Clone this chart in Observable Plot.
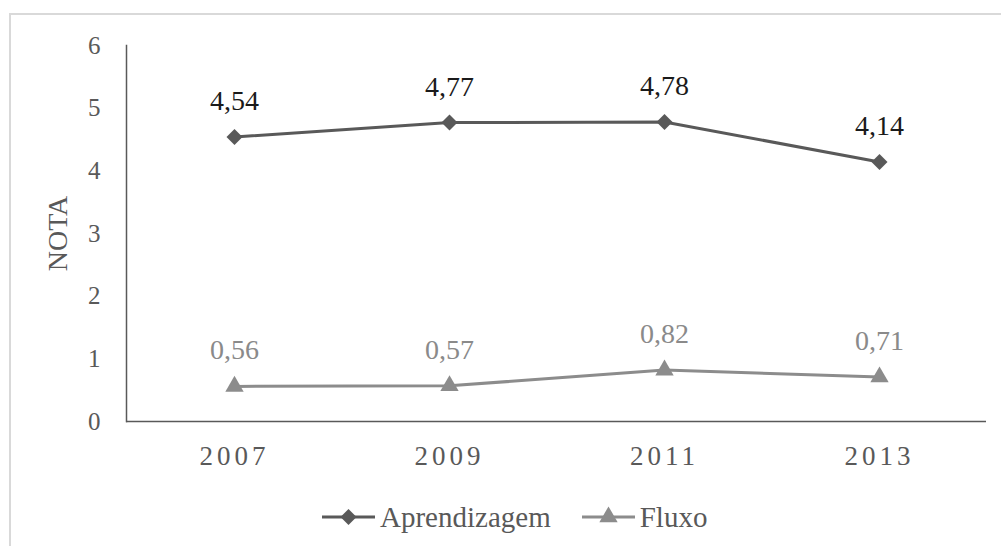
<!DOCTYPE html>
<html>
<head>
<meta charset="utf-8">
<script src="https://cdn.jsdelivr.net/npm/d3@7"></script>
<script src="https://cdn.jsdelivr.net/npm/@observablehq/plot@0.6"></script>
</head>
<body style="margin:0;padding:0;background:#fff">
<div id="wrap" style="position:relative;width:1001px;height:546px;overflow:hidden;font-family:'Liberation Serif'">
  <div style="position:absolute;left:9px;top:13px;width:1100px;height:600px;border-top:2px solid #d9d9d9;border-left:2px solid #d9d9d9;box-sizing:border-box"></div>
  <div id="chart" style="position:absolute;left:0;top:0"></div>
  <div id="legend" style="position:absolute;left:322px;top:497px;height:40px;display:flex;align-items:center;font-size:29px;color:#595959;font-family:'Liberation Serif'"></div>
</div>
<script>
const years = ["2007", "2009", "2011", "2013"];
const aprendizagem = [4.54, 4.77, 4.78, 4.14];
const fluxo = [0.56, 0.57, 0.82, 0.71];
const seriesNames = ["Aprendizagem", "Fluxo"];
const yTicks = [0, 1, 2, 3, 4, 5, 6];
const yLabel = "NOTA";

const FONT = "Liberation Serif";
const lineColors = {Aprendizagem: "#595959", Fluxo: "#8c8c8c"};
const labelColors = {Aprendizagem: "#1a1a1a", Fluxo: "#8a8a8a"};
const symbols = {Aprendizagem: "diamond2", Fluxo: "triangle"};
const radii = {Aprendizagem: 7.2, Fluxo: 6.8};

const data = years.flatMap((y, i) => [
  {year: y, serie: seriesNames[0], value: aprendizagem[i]},
  {year: y, serie: seriesNames[1], value: fluxo[i]}
]);
const fmt = v => d3.format(".2f")(v).replace(".", ",");

const marks = [
  Plot.axisY({ticks: yTicks, tickSize: 0, tickPadding: 26, fontSize: 25, fontFamily: FONT, fill: "#595959", label: null, tickFormat: d => String(d)}),
  Plot.axisX({tickSize: 0, tickPadding: 24, fontSize: 27, fontFamily: FONT, fill: "#595959", label: null}),
  Plot.text([yLabel], {frameAnchor: "left", textAnchor: "middle", dx: -68, rotate: -90, fontSize: 28, fontFamily: FONT, fill: "#595959"}),
  Plot.ruleY([0], {stroke: "#595959", strokeWidth: 1.5}),
  Plot.frame({anchor: "left", stroke: "#595959", strokeWidth: 1.5})
];
for (const s of seriesNames) {
  const f = d => d.serie === s;
  marks.push(Plot.line(data, {filter: f, x: "year", y: "value", stroke: lineColors[s], strokeWidth: 3}));
  marks.push(Plot.dot(data, {filter: f, x: "year", y: "value", symbol: symbols[s], r: radii[s], fill: lineColors[s], stroke: "none"}));
  marks.push(Plot.text(data, {filter: f, x: "year", y: "value", text: d => fmt(d.value), dy: -36, fontSize: 28, fontFamily: FONT, fill: labelColors[s]}));
}

const chart = Plot.plot({
  width: 1001,
  height: 470,
  marginLeft: 126,
  marginRight: 15,
  marginTop: 45,
  marginBottom: 49,
  style: {fontFamily: FONT, background: "transparent", overflow: "visible"},
  x: {type: "point", domain: years, padding: 0.5},
  y: {domain: [0, 6]},
  marks
});
document.getElementById("chart").appendChild(chart);
d3.select(chart).selectAll('g[aria-label="x-axis tick label"] text').style("letter-spacing", "4px");

// legend
const legend = document.getElementById("legend");
seriesNames.forEach((s, i) => {
  const item = document.createElement("div");
  item.style.cssText = `display:flex;align-items:center;margin-right:${i === 0 ? 31 : 0}px;font-family:'Liberation Serif'`;
  const sym = d3.symbol(s === "Aprendizagem" ? d3.symbolDiamond2 : d3.symbolTriangle, Math.PI * radii[s] * radii[s])();
  item.innerHTML = `<svg width="53" height="24" viewBox="0 0 53 24" style="margin-right:5px"><line x1="0" x2="53" y1="12" y2="12" stroke="${lineColors[s]}" stroke-width="3"/><path transform="translate(26.5,12)" d="${sym}" fill="${lineColors[s]}"/></svg><span style="font-family:'Liberation Serif'">${s}</span>`;
  legend.appendChild(item);
});
</script>
</body>
</html>
